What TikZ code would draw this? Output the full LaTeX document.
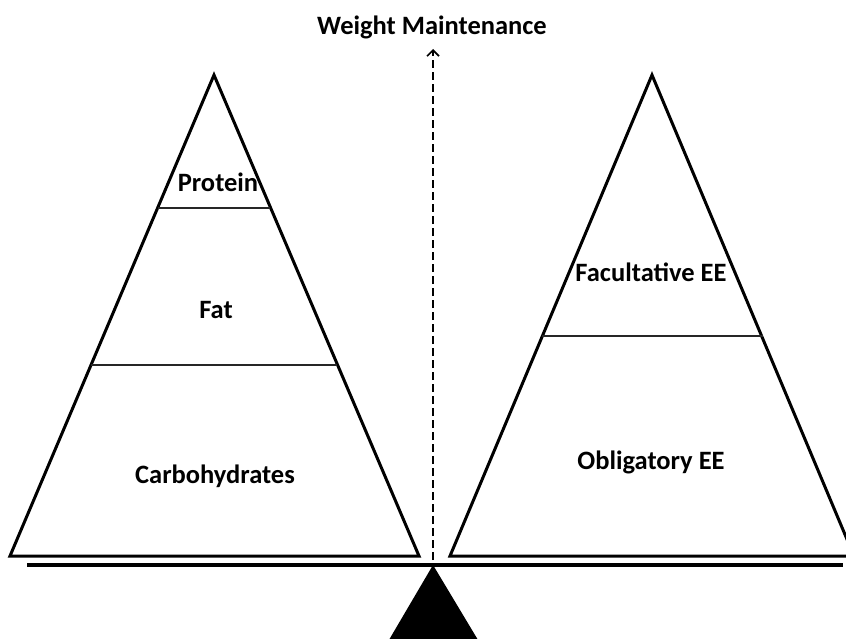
\documentclass[tikz,border=0pt]{standalone}
\usepackage{fontspec}
\setmainfont{Carlito}
\usetikzlibrary{arrows.meta}
\begin{document}
\begin{tikzpicture}[x=1pt,y=-1pt,
  lbl/.style={font=\bfseries\fontsize{26.5}{30}\selectfont, inner sep=1pt},
  tri/.style={draw=black, line width=3pt, line join=miter},
  divider/.style={draw=black!85, line width=1.4pt},
  beam/.style={draw=black, line width=4.5pt},
  fulcrum/.style={fill=black, draw=none}]
\useasboundingbox (0,0) rectangle (846,639);
\begin{scope}
\clip (0,0) rectangle (846,639);
% left pyramid
\coordinate (LA) at (214,75);
\coordinate (LL) at (10,556);
\coordinate (LR) at (419,556);
\draw[tri] (LA) -- (LL) -- (LR) -- cycle;
\draw[divider] (158,208) -- (270,208);
\draw[divider] (91,365) -- (337,365);
% right pyramid
\coordinate (RA) at (652,75);
\coordinate (RL) at (450,556);
\coordinate (RR) at (854,556);
\draw[tri] (RA) -- (RL) -- (RR) -- cycle;
\draw[divider] (542,336) -- (763,336);
% beam
\coordinate (B1) at (27,565);
\coordinate (B2) at (843,565);
\draw[beam] (B1) -- (B2);
% fulcrum
\coordinate (F) at (433,565);
\fill[fulcrum] (F) -- (481,645) -- (386,645) -- cycle;
\end{scope}
% labels
\node[lbl] (prot) at (218,182) {Protein};
\node[lbl] (fat) at (216,310) {Fat};
\node[lbl] (carb) at (215,476) {Carbohydrates};
\node[lbl] (fac) at (651,272) {Facultative EE};
\node[lbl] (obl) at (651,462) {Obligatory EE};
\node[lbl] (wm) at (432,27) {Weight Maintenance};
\coordinate (AB) at (433,560);
\coordinate (AT) at (433,49);
\draw[line width=1.6pt, dash pattern=on 8pt off 4pt, -{Straight Barb[length=6pt,width=12pt,line width=1.6pt]}] (AB) -- (AT);
\end{tikzpicture}
\end{document}
